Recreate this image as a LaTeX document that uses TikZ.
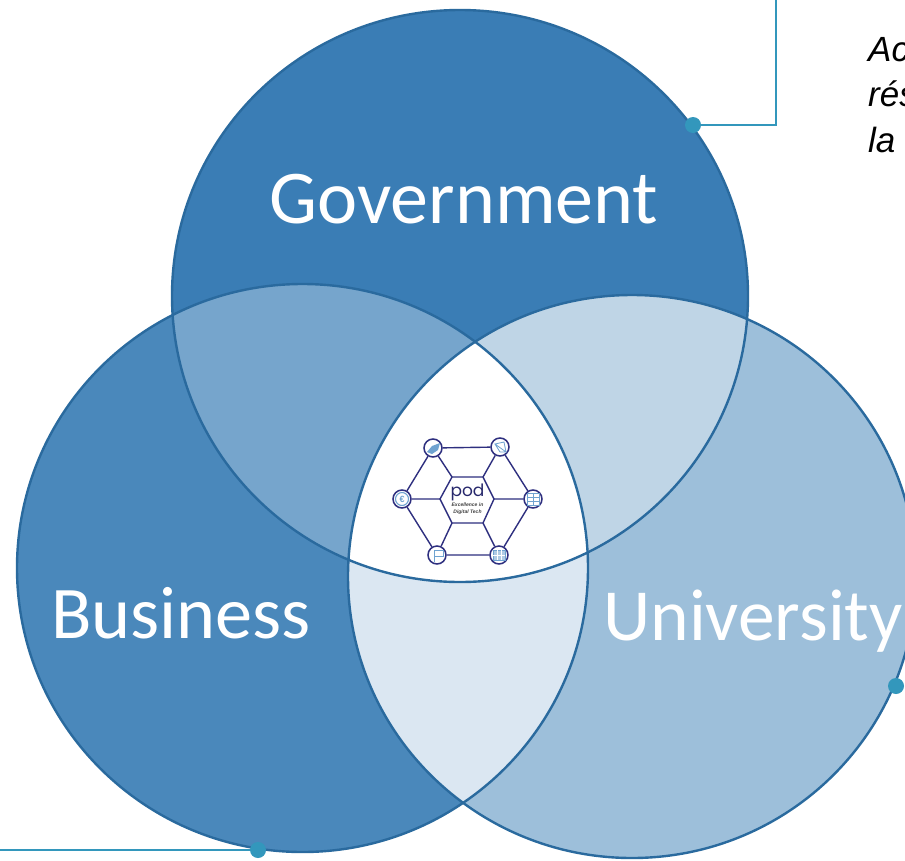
\documentclass[tikz,border=0pt]{standalone}
\usepackage{fontspec}
\setmainfont{Liberation Sans}
\newfontfamily\labelfont{Carlito}
\newfontfamily\logofont{Poppins}
\definecolor{govc}{HTML}{3A7DB5}
\definecolor{busc}{HTML}{4A88BB}
\definecolor{unic}{HTML}{9DBFDA}
\definecolor{gbc}{HTML}{76A5CC}
\definecolor{guc}{HTML}{BFD5E6}
\definecolor{buc}{HTML}{DBE7F2}
\definecolor{edgec}{HTML}{2A6A9E}
\definecolor{callc}{HTML}{3397BC}
\definecolor{navy}{HTML}{2E2F7F}
\definecolor{iconc}{HTML}{6FA3D0}
\tikzset{
  vennlabel/.style={anchor=base,text=white,inner sep=0pt,font=\labelfont\fontsize{#1}{#1}\selectfont},
  vennedge/.style={draw=edgec,line width=2.4pt},
  calldot/.style={circle,fill=callc,inner sep=0pt,minimum size=16pt},
  callline/.style={draw=callc,line width=2.4pt},
  calltext/.style={anchor=base west,inner sep=0pt,font=\itshape\fontsize{35}{35}\selectfont,text=black},
  hubnode/.style={circle,draw=navy,fill=white,line width=1.5pt,inner sep=0pt,minimum size=18pt,text=iconc},
  hexline/.style={draw=navy,line width=1.4pt},
  icon/.style={draw=iconc,line width=.8pt}
}
\begin{document}
\begin{tikzpicture}[x=1pt,y=-1pt]
\useasboundingbox (0,0) rectangle (905,860);
\clip (0,0) rectangle (905,860);
\fill[white] (0,0) rectangle (905,860);
\def\gov{(460,296) ellipse [x radius=288pt,y radius=286pt]}
\def\bus{(302.5,568) ellipse [x radius=285.5pt,y radius=284pt]}
\def\uni{(632,576.5) ellipse [x radius=284pt,y radius=281.5pt]}
% fills
\fill[unic] \uni;
\fill[busc] \bus;
\fill[govc] \gov;
\begin{scope}\clip \gov; \fill[gbc] \bus; \end{scope}
\begin{scope}\clip \gov; \fill[guc] \uni; \end{scope}
\begin{scope}\clip \bus; \fill[buc] \uni; \end{scope}
\begin{scope}\clip \gov; \clip \bus; \fill[white] \uni; \end{scope}
% outlines
\draw[vennedge] \uni;
\draw[vennedge] \bus;
\draw[vennedge] \gov;
% labels
\node[vennlabel=76] (lgov) at (464,223) {Government};
\node[vennlabel=74.3] (lbus) at (181,638) {Business};
\node[vennlabel=73.5] (luni) at (753,640) {University};
% callouts
\node[calldot] (dg) at (693,125) {};
\node[calldot] (db) at (258,850) {};
\node[calldot] (du) at (896,686) {};
\coordinate (gend) at (776,0);
\coordinate (bend) at (0,850);
\draw[callline] (dg) -| (gend);
\draw[callline] (db) -- (bend);
\node[calltext] (t1) at (868,61) {Ac};
\node[calltext] (t2) at (868,106) {rés};
\node[calltext] (t3) at (868,152) {la};
% logo: inner hexagon corners
\coordinate (h1) at (452,477);
\coordinate (h2) at (483,477);
\coordinate (h3) at (494,499);
\coordinate (h4) at (483,523);
\coordinate (h5) at (452,523);
\coordinate (h6) at (440,499);
\node[hubnode] (n1) at (433,448) {};
\node[hubnode] (n2) at (500,447) {};
\node[hubnode] (n3) at (533,499) {};
\node[hubnode] (n4) at (499,555) {};
\node[hubnode] (n5) at (437,555) {};
\node[hubnode] (n6) at (402,499) {};
\draw[hexline] (h1)--(h2)--(h3)--(h4)--(h5)--(h6)--cycle;
\draw[hexline] (n1)--(n2) (n2)--(n3) (n3)--(n4) (n4)--(n5) (n5)--(n6) (n6)--(n1);
\draw[hexline] (n1)--(h1) (n2)--(h2) (n3)--(h3) (n4)--(h4) (n5)--(h5) (n6)--(h6);
% icons
\fill[iconc] (427,452) -- (432,446) -- (440,443) -- (438,450) -- (432,454) -- cycle;
\draw[icon] (495,444) -- (504,442) -- (506,452) -- cycle (495,444) -- (500,452) -- (506,452);
\draw[iconc,line width=1.1pt] (402,499) circle [radius=6.5pt];
\node[text=iconc,inner sep=0pt,font=\bfseries\fontsize{9}{9}\selectfont] (euro) at (402,499) {€};
\draw[icon] (527,493) rectangle (539,505) (527,497) -- (539,497) (527,501) -- (539,501) (533,493) -- (533,505);
\draw[icon,fill=iconc!55] (493,550) rectangle (505,560);
\draw[white,line width=.7pt] (493,555) -- (505,555) (497,550) -- (497,560) (501,550) -- (501,560);
\draw[icon] (434,562) -- (434,550) -- (443,550) -- (443,556) -- (434,556);
% logo text
\node[inner sep=0pt,text=navy!85!black,font=\logofont\fontsize{17}{17}\selectfont,anchor=base] (pod) at (467.5,496) {pod};
\node[inner sep=0pt,align=center,text=black!75,font=\bfseries\itshape\fontsize{5}{6.6}\selectfont] (sub) at (467.5,508.5) {Excellence in\\Digital Tech};
\end{tikzpicture}
\end{document}
